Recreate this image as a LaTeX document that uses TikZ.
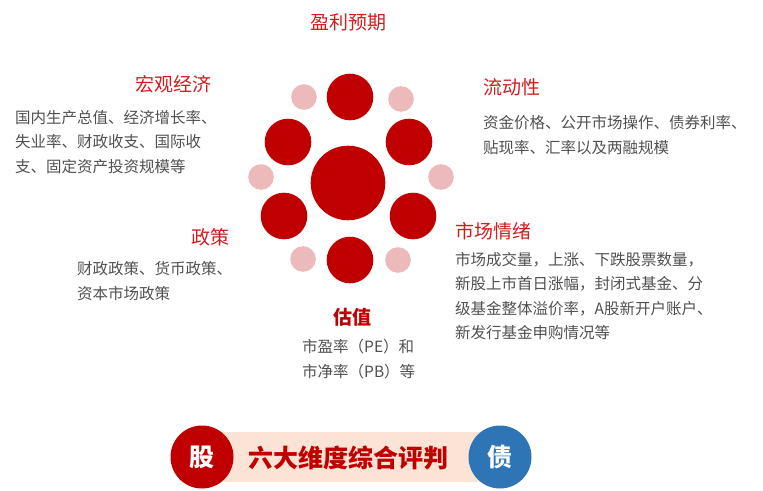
\documentclass[tikz,border=0pt]{standalone}
\usepackage{fontspec}
\setmainfont{Noto Sans CJK SC}
\definecolor{deepred}{RGB}{192,0,0}
\definecolor{headred}{RGB}{210,28,30}
\definecolor{softred}{RGB}{236,186,186}
\definecolor{bodygray}{RGB}{80,80,80}
\definecolor{bandpink}{RGB}{251,228,214}
\definecolor{bondblue}{RGB}{46,117,182}

\begin{document}
\begin{tikzpicture}[x=1pt,y=-1pt,
    core/.style={circle,fill=deepred,inner sep=0,minimum size=74.6pt},
    petal/.style={circle,fill=deepred,inner sep=0,minimum size=46.6pt},
    dot/.style={circle,fill=softred,inner sep=0,minimum size=25.6pt},
    head/.style={text=headred,inner sep=0,font=\fontsize{19}{19}\selectfont},
    body/.style={text=bodygray,inner sep=0,align=left,font=\fontsize{15.5}{24.5}\selectfont},
    badge/.style={circle,inner sep=0,minimum size=63pt,text=white,font=\fontsize{25}{25}\selectfont\bfseries}]
        \useasboundingbox (0,0) rectangle (763,490);

        % flower
        \node[core] (center) at (348,183) {};
        \node[petal] (ptop) at (350,97) {};
        \node[petal] (pul) at (288,142) {};
        \node[petal] (pur) at (409,142) {};
        \node[petal] (pll) at (284,216) {};
        \node[petal] (plr) at (413,216) {};
        \node[petal] (pbot) at (350,260) {};
        \node[dot] (dul) at (304,97) {};
        \node[dot] (dur) at (401,99) {};
        \node[dot] (dl) at (261,177) {};
        \node[dot] (dr) at (441,177) {};
        \node[dot] (dll) at (303,259) {};
        \node[dot] (dlr) at (398,260) {};

        % labels
        \node[head] (profit) at (348,22) {盈利预期};

        \node[head,anchor=west] (macro) at (135,84) {宏观经济};
        \node[body,anchor=west] (macrotxt) at (15,142) {国内生产总值、经济增长率、\\失业率、财政收支、国际收\\支、固定资产投资规模等};

        \node[head,anchor=west] (liquid) at (483,87) {流动性};
        \node[body,anchor=west] (liquidtxt) at (483,135) {资金价格、公开市场操作、债券利率、\\贴现率、汇率以及两融规模};

        \node[head,anchor=west] (policy) at (191,237) {政策};
        \node[body,anchor=west] (policytxt) at (77,281) {财政政策、货币政策、\\资本市场政策};

        \node[head,anchor=west] (mood) at (455,231) {市场情绪};
        \node[body,anchor=west] (moodtxt) at (455,296) {市场成交量，上涨、下跌股票数量，\\新股上市首日涨幅，封闭式基金、分\\级基金整体溢价率，A股新开户账户、\\新发行基金申购情况等};

        \node[head,text=deepred,font=\fontsize{19}{19}\selectfont\bfseries] (value) at (352,317) {估值};
        \node[body,anchor=west] (valuetxt) at (302,359) {市盈率（PE）和\\市净率（PB）等};

        % bottom band
        \fill[bandpink] (200,432) rectangle (480,482);
        \node[badge,fill=deepred] (stock) at (202,457) {股};
        \node[badge,fill=bondblue] (bond) at (500,457) {债};
        \node[text=deepred,font=\fontsize{25}{25}\selectfont\bfseries] (title) at (348,458) {六大维度综合评判};
\end{tikzpicture}
\end{document}
